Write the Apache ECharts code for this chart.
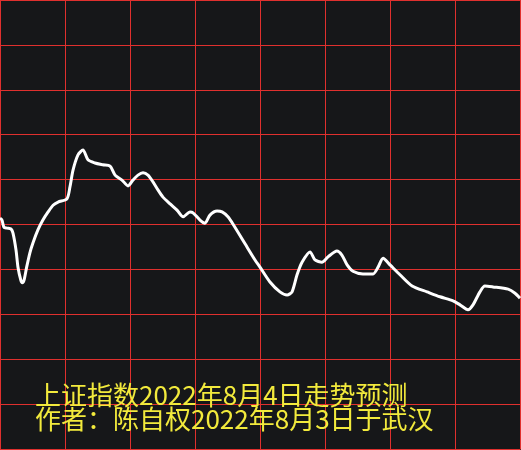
<!DOCTYPE html>
<html>
<head>
<meta charset="utf-8">
<script src="https://cdn.jsdelivr.net/npm/echarts@6/dist/echarts.min.js"></script>
<style>
html,body{margin:0;padding:0;background:#161719;}
#main{width:521px;height:450px;}
</style>
</head>
<body>
<div id="main"></div>
<script>
// time in minutes since the open (0..240)
var minutes = [0,0.9,1.8,3.2,5.1,6.0,7.4,8.3,9.6,10.3,11.1,12.3,13.8,15.2,17.5,19.8,22.2,24.5,26.8,30.9,32.3,33.7,36.0,38.3,40.6,43.8,47.5,50.8,53.1,56.3,59.1,61.4,63.7,66.0,68.3,70.6,72.9,75.2,78.5,81.7,84.5,87.7,89.1,92.3,94.6,96.9,100.2,102.5,105.2,107.5,113.1,117.7,120,124.6,129.2,132.5,134.8,137.1,139.4,143.1,145.4,148.6,151.4,155.5,157.8,160.2,162.9,167.5,172.2,174.5,176.8,180,184.6,190.2,197.1,203.1,209.1,212.3,216,218.3,221.5,223.8,227.5,234.5,237.7,240];
// forecast level (grid units)
var level = [5.14,5.10,4.94,4.92,4.90,4.81,4.43,4.05,3.76,3.70,3.76,4.05,4.37,4.59,4.88,5.10,5.28,5.43,5.50,5.57,5.84,6.21,6.55,6.66,6.44,6.37,6.33,6.30,6.10,5.99,5.86,5.99,6.10,6.15,6.10,5.95,5.77,5.61,5.46,5.32,5.17,5.28,5.26,5.10,5.03,5.21,5.30,5.28,5.17,5.01,4.57,4.21,4.05,3.72,3.50,3.43,3.50,3.88,4.16,4.39,4.21,4.16,4.28,4.41,4.32,4.10,3.96,3.90,3.90,4.05,4.25,4.10,3.88,3.63,3.50,3.39,3.30,3.21,3.10,3.21,3.50,3.63,3.61,3.56,3.47,3.36];
var titleLines = ['上证指数2022年8月4日走势预测', '作者：陈自权2022年8月3日于武汉'];

var points = minutes.map(function(m, i){ return [m, level[i]]; });
var chart = echarts.init(document.getElementById('main'), null, {renderer:'canvas'});
var red = '#e0302e';
var ts = {color:'#f2ea3c', fontSize:26, fontWeight:'normal', fontFamily:'Noto Sans CJK SC'};
chart.setOption({
  backgroundColor: '#161719',
  animation: false,
  title: [
    {text: titleLines[0], left: 35, top: 382, padding: 0, textStyle: ts},
    {text: titleLines[1], left: 35, top: 406, padding: 0, textStyle: ts}
  ],
  grid: {left:0, top:0, width:520, height:449, containLabel:false},
  xAxis: {
    type:'value', min:0, max:240, interval:30,
    axisLabel:{show:false}, axisTick:{show:false},
    axisLine:{show:true, lineStyle:{color:red, width:1}},
    splitLine:{show:true, lineStyle:{color:red, width:1}}
  },
  yAxis: {
    type:'value', min:0, max:10, interval:1,
    axisLabel:{show:false}, axisTick:{show:false},
    axisLine:{show:true, lineStyle:{color:red, width:1}},
    splitLine:{show:true, lineStyle:{color:red, width:1}}
  },
  series: [{
    type:'line', data: points, smooth: 0.25, symbol:'none',
    lineStyle:{color:'#ffffff', width:3}
  }]
});
</script>
</body>
</html>
